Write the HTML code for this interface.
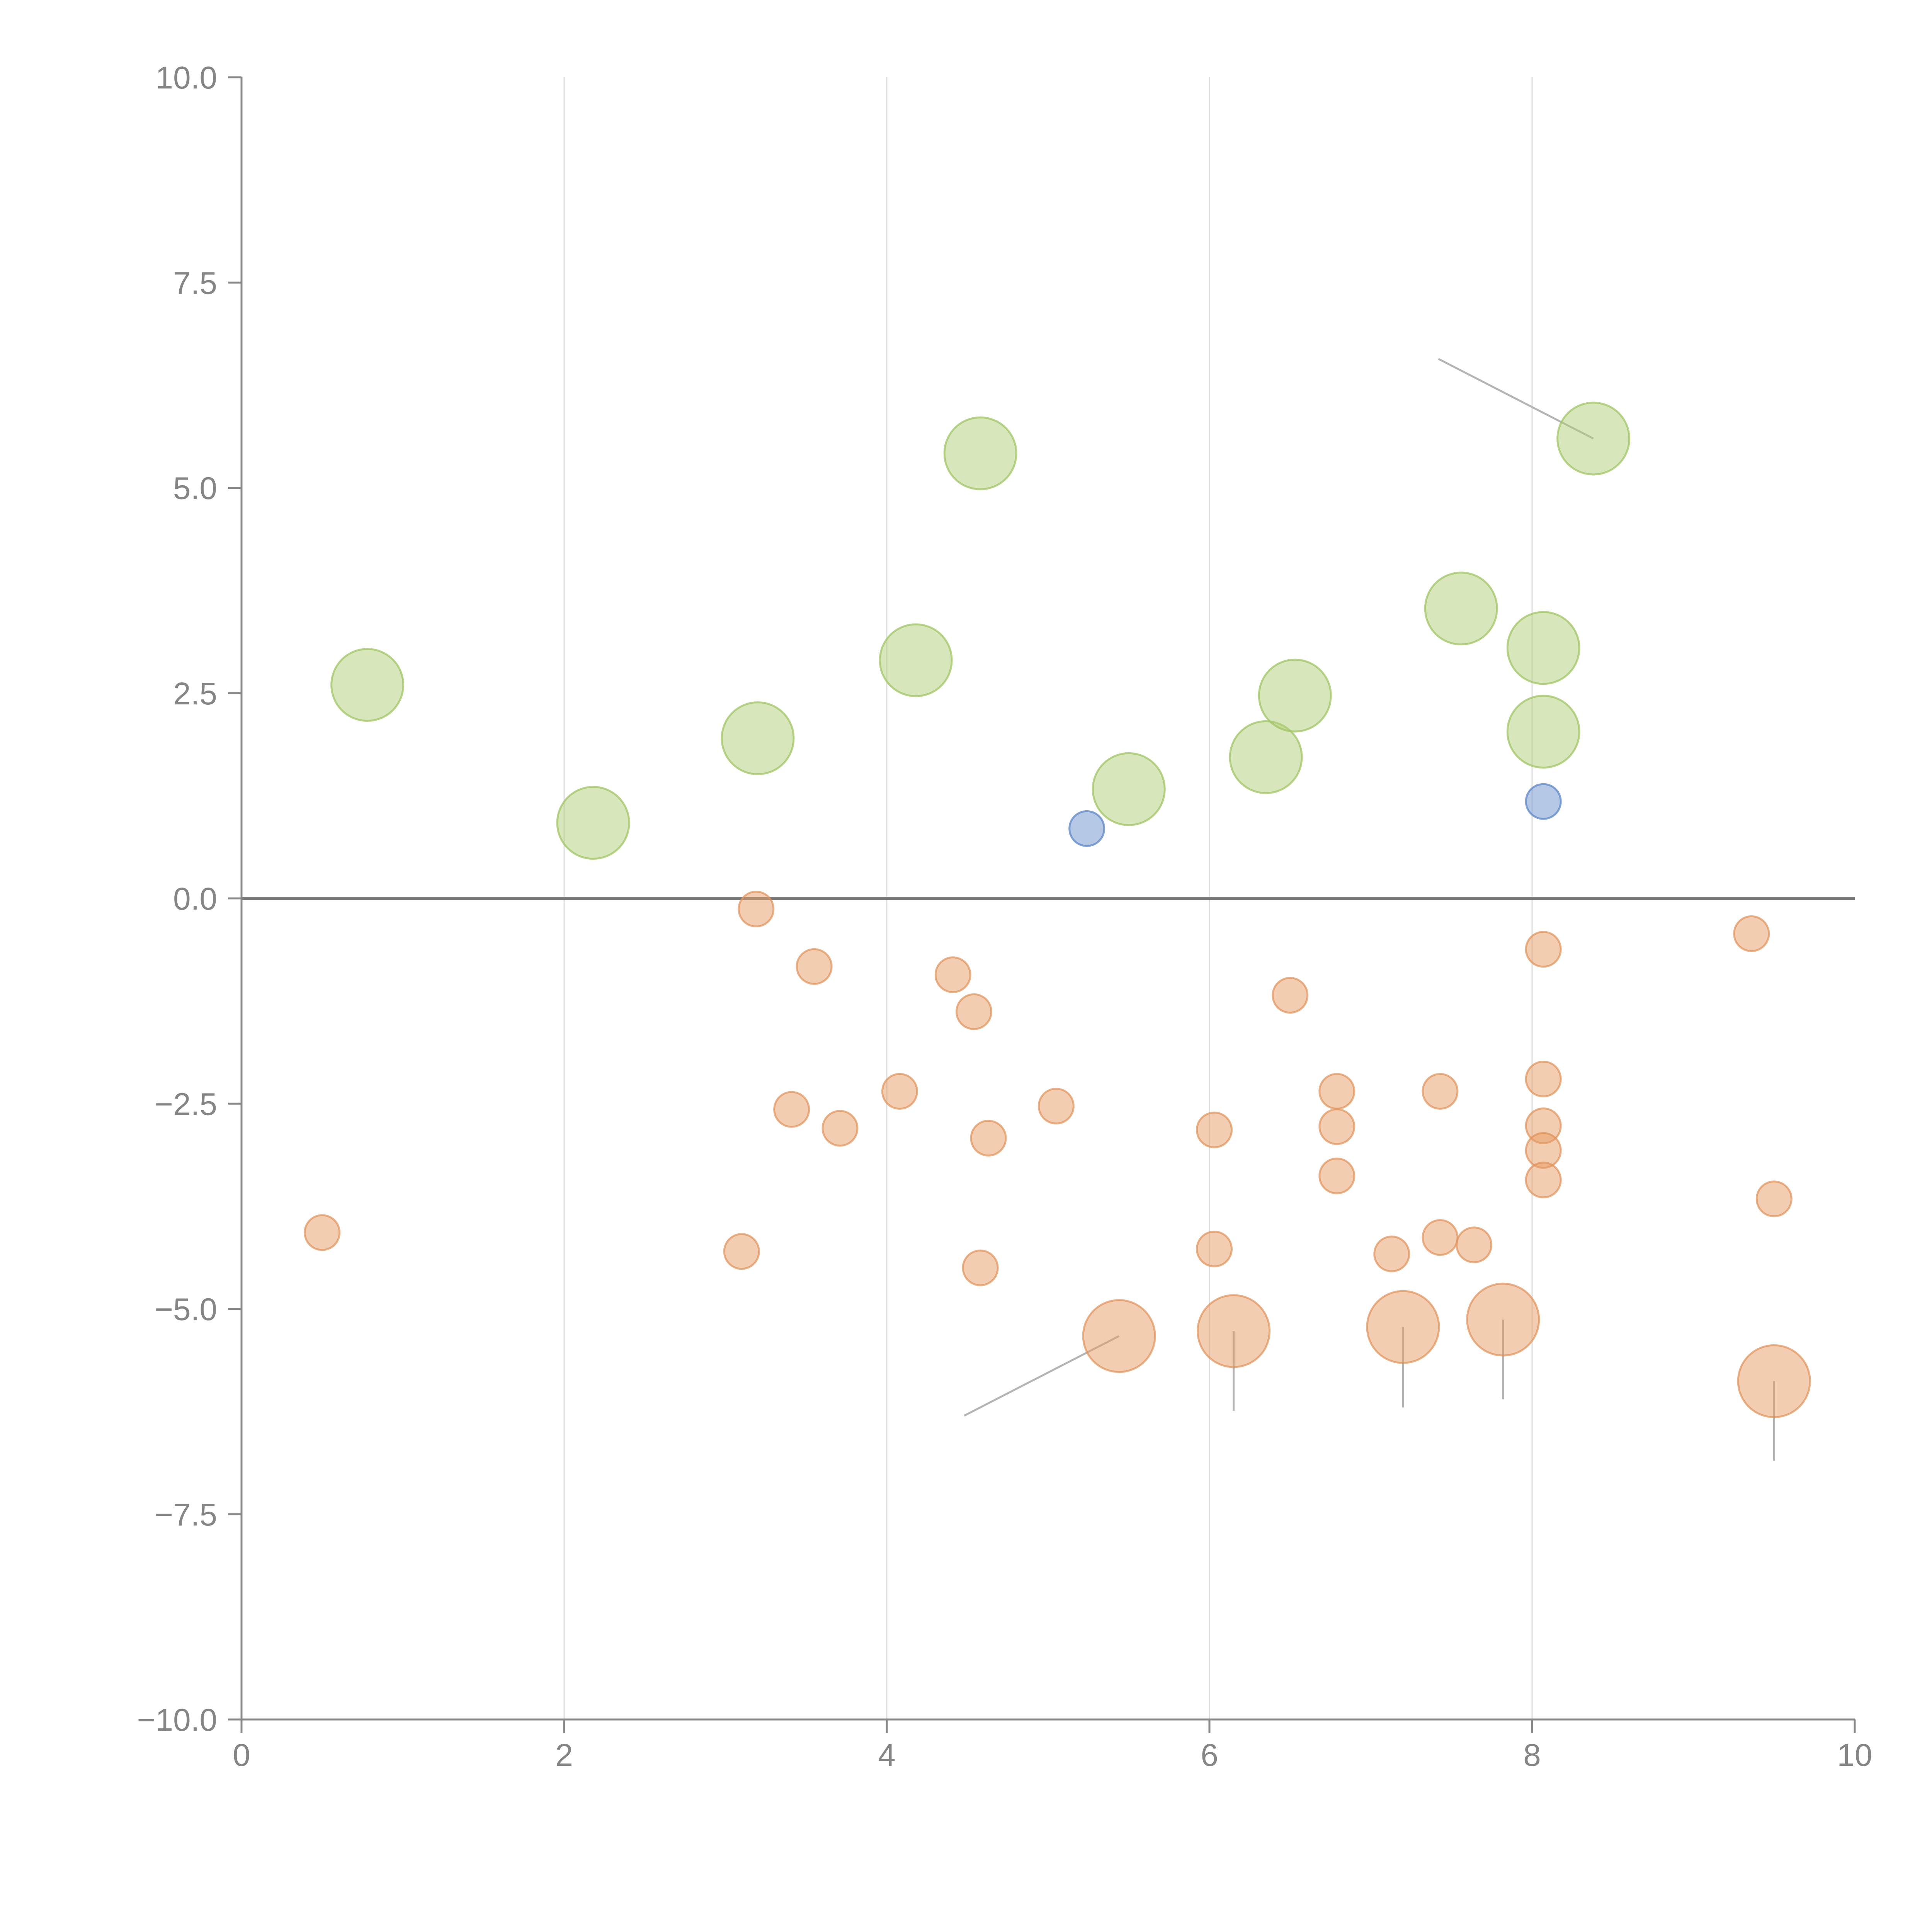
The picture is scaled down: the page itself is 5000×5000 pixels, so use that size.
<!DOCTYPE html>
<html><head><meta charset="utf-8"><style>html,body{margin:0;padding:0;background:#fff}svg{display:block}</style></head>
<body>
<svg id="chart" width="5000" height="5000" viewBox="0 0 5000 5000" xmlns="http://www.w3.org/2000/svg" font-family="Liberation Sans, Arial, sans-serif"></svg>
<script>
const xTicks = [0, 2, 4, 6, 8, 10];
const xTickLabels = ["0", "2", "4", "6", "8", "10"];
const yTicks = [10, 7.5, 5, 2.5, 0, -2.5, -5, -7.5, -10];
const yTickLabels = ["10.0", "7.5", "5.0", "2.5", "0.0", "\u22122.5", "\u22125.0", "\u22127.5", "\u221210.0"];
const greenX = [0.78, 2.18, 3.2, 4.18, 4.58, 5.5, 6.35, 6.53, 7.56, 8.07, 8.07, 8.38];
const greenY = [2.6, 0.92, 1.95, 2.9, 5.42, 1.33, 1.72, 2.47, 3.53, 3.05, 2.03, 5.6];
const blueX = [5.24, 8.07];
const blueY = [0.85, 1.18];
const orangeX = [0.5, 3.1, 3.19, 3.41, 3.55, 3.71, 4.08, 4.41, 4.54, 4.58, 4.63, 5.05, 6.03, 6.03, 6.5, 6.79, 6.79, 6.79, 7.13, 7.43, 7.43, 7.64, 8.07, 8.07, 8.07, 8.07, 8.07, 9.36, 9.5];
const orangeY = [-4.07, -4.3, -0.13, -2.57, -0.83, -2.8, -2.35, -0.93, -1.38, -4.5, -2.92, -2.53, -2.82, -4.27, -1.18, -2.35, -2.78, -3.38, -4.33, -2.35, -4.13, -4.22, -0.62, -2.2, -2.77, -3.07, -3.43, -0.43, -3.66];
const bigOrangeX = [5.44, 6.15, 7.2, 7.82, 9.5];
const bigOrangeY = [-5.33, -5.27, -5.22, -5.13, -5.88];
const leaderFromX = [8.38, 5.44, 6.15, 7.2, 7.82, 9.5];
const leaderFromY = [5.6, -5.33, -5.27, -5.22, -5.13, -5.88];
const leaderToX = [7.42, 4.48, 6.15, 7.2, 7.82, 9.5];
const leaderToY = [6.57, -6.3, -6.24, -6.2, -6.1, -6.85];

const X0 = 625, X1 = 4800, Y0 = 4450, Y1 = 200;
function sx(v){ return X0 + (v - 0) / 10 * (X1 - X0); }
function sy(v){ return Y0 - (v + 10) / 20 * (Y0 - Y1); }
const svg = document.getElementById('chart');
const NS = 'http://www.w3.org/2000/svg';
function mk(tag, attrs){ const e = document.createElementNS(NS, tag); for (const k in attrs) e.setAttribute(k, attrs[k]); svg.appendChild(e); return e; }

for (let i = 1; i < xTicks.length - 1; i++) {
  const g = mk('line', {x1: sx(xTicks[i]), x2: sx(xTicks[i]), y1: Y1, y2: Y0, stroke: '#dcdcdc', 'stroke-width': 3});
  
  
}
const z = mk('line', {x1: X0, x2: X1, y1: sy(0), y2: sy(0), stroke: '#7a7a7a', 'stroke-width': 8});



const ya = mk('line', {x1: X0, x2: X0, y1: Y1, y2: Y0 + 35, stroke: '#888', 'stroke-width': 5});


const xa = mk('line', {x1: X0 - 35, x2: X1, y1: Y0, y2: Y0, stroke: '#888', 'stroke-width': 5});



for (let i = 0; i < xTicks.length; i++) {
  const t = mk('line', {x1: sx(xTicks[i]), x2: sx(xTicks[i]), y1: Y0, y2: Y0 + 35, stroke: '#888', 'stroke-width': 5});
  
  
  const l = mk('text', {x: sx(xTicks[i]), y: 4570, 'text-anchor': 'middle', 'font-size': 82, fill: '#858585'});
  l.textContent = xTickLabels[i];
  
  
}
for (let i = 0; i < yTicks.length; i++) {
  const t = mk('line', {x1: X0 - 35, x2: X0, y1: sy(yTicks[i]), y2: sy(yTicks[i]), stroke: '#888', 'stroke-width': 5});
  
  
  const l = mk('text', {x: 562, y: sy(yTicks[i]) + 29, 'text-anchor': 'end', 'font-size': 82, fill: '#858585'});
  l.textContent = yTickLabels[i];
  
  
}

for (let i = 0; i < leaderFromX.length; i++) {
  const ln = mk('line', {x1: sx(leaderFromX[i]), y1: sy(leaderFromY[i]), x2: sx(leaderToX[i]), y2: sy(leaderToY[i]), stroke: '#b4b4b4', 'stroke-width': 5});
  
  
}

function dots(xs, ys, r, fill, stroke, name){
  for (let i = 0; i < xs.length; i++) {
    const c = mk('circle', {cx: sx(xs[i]), cy: sy(ys[i]), r: r, fill: fill, stroke: stroke, 'stroke-width': 5});
    
    
  }
}
dots(greenX, greenY, 93, 'rgba(176,206,120,0.5)', 'rgba(160,196,100,0.75)', 'green-bubble');
dots(blueX, blueY, 45, 'rgba(120,155,210,0.55)', 'rgba(100,140,200,0.8)', 'blue-bubble');
dots(orangeX, orangeY, 45, 'rgba(232,155,100,0.5)', 'rgba(222,145,90,0.7)', 'orange-bubble');
dots(bigOrangeX, bigOrangeY, 93, 'rgba(232,155,100,0.5)', 'rgba(222,145,90,0.7)', 'orange-large-bubble');
</script>
</body></html>
